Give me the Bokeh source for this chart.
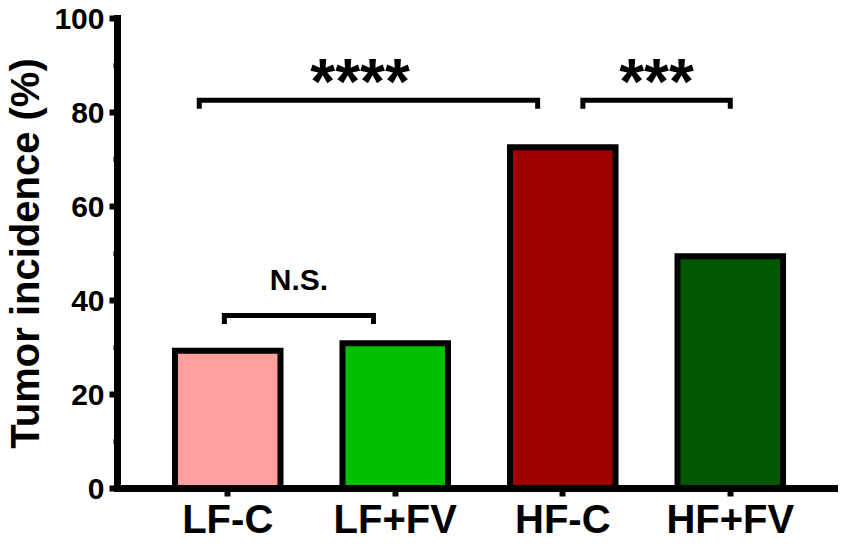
from bokeh.plotting import figure
from bokeh.models import Range1d, FixedTicker, ColumnDataSource
from bokeh.embed import file_html
from bokeh.resources import INLINE
from bokeh.core.properties import value

# ---- data ----
categories = ["LF-C", "LF+FV", "HF-C", "HF+FV"]
incidence = [29.3, 30.9, 72.6, 49.4]          # Tumor incidence (%)
bar_colors = ["#FF9E9E", "#00BF00", "#9E0000", "#005800"]
y_ticks = [0, 20, 40, 60, 80, 100]

# significance annotations
sig_labels = ["****", "N.S.", "***"]
sig_left = [-0.17, -0.02, 2.12]
sig_right = [1.85, 0.87, 3.0]
sig_y = [82.6, 36.8, 82.6]

FONT = "Liberation Sans"

positions = list(range(len(categories)))
src = ColumnDataSource(dict(x=positions, top=incidence, color=bar_colors, cat=categories))

p = figure(width=838, height=543,
           x_range=Range1d(-0.658, 3.646), y_range=Range1d(0, 100),
           output_backend="svg", toolbar_location=None,
           min_border_left=112, min_border_top=18, min_border_right=0, min_border_bottom=51)
p.outline_line_color = None
p.xgrid.grid_line_color = None
p.ygrid.grid_line_color = None
p.background_fill_color = "white"
p.border_fill_color = "white"

p.vbar(x="x", top="top", bottom=0, width=0.63, source=src,
       fill_color="color", line_color="black", line_width=6, line_join="miter")

# brackets
drop = 1.8
xs = [[a, a, b, b] for a, b in zip(sig_left, sig_right)]
ys = [[y - drop, y, y, y - drop] for y in sig_y]
p.multi_line(xs=xs, ys=ys, line_color="black", line_width=5, line_join="miter", line_cap="butt")

mids = [(a + b) / 2 for a, b in zip(sig_left, sig_right)]
star_idx = [i for i, s in enumerate(sig_labels) if s.startswith("*")]
ns_idx = [i for i, s in enumerate(sig_labels) if not s.startswith("*")]
p.text(x=[mids[i] - 0.05 * (len(sig_labels[i]) > 3) for i in star_idx],
       y=[sig_y[i] + 3.9 for i in star_idx],
       text=[sig_labels[i] for i in star_idx],
       text_font=value(FONT), text_font_size="64px", text_font_style="bold",
       text_align="center", text_baseline="alphabetic", text_color="black")
p.text(x=[mids[i] for i in ns_idx],
       y=[sig_y[i] + 7.6 for i in ns_idx],
       text=[sig_labels[i] for i in ns_idx],
       text_font=value(FONT), text_font_size="30px", text_font_style="bold",
       text_align="center", text_baseline="alphabetic", text_color="black")

# y axis
ya = p.yaxis[0]
ya.ticker = FixedTicker(ticks=y_ticks, minor_ticks=[t + 10 for t in y_ticks[:-1]])
ya.axis_line_width = 7
ya.axis_line_color = "black"
ya.axis_line_cap = "square"
ya.major_tick_line_width = 6
ya.major_tick_line_color = "black"
ya.major_tick_out = 8
ya.major_tick_in = 0
ya.minor_tick_line_width = 5
ya.minor_tick_line_color = "black"
ya.minor_tick_out = 4
ya.minor_tick_in = 0
ya.major_label_text_font = FONT
ya.major_label_text_font_size = "30px"
ya.major_label_text_font_style = "bold"
ya.major_label_text_color = "black"
ya.major_label_standoff = 5
ya.axis_label = "Tumor incidence (%)"
ya.axis_label_text_font = FONT
ya.axis_label_text_font_size = "40px"
ya.axis_label_text_font_style = "bold"
ya.axis_label_text_color = "black"
ya.axis_label_standoff = 4

# x axis
xa = p.xaxis[0]
xa.ticker = FixedTicker(ticks=positions)
xa.major_label_overrides = {i: c for i, c in zip(positions, categories)}
xa.axis_line_width = 7
xa.axis_line_color = "black"
xa.axis_line_cap = "square"
xa.major_tick_line_width = 6
xa.major_tick_line_color = "black"
xa.major_tick_out = 8
xa.major_tick_in = 0
xa.minor_tick_line_color = None
xa.major_label_text_font = FONT
xa.major_label_text_font_size = "40px"
xa.major_label_text_font_style = "bold"
xa.major_label_text_color = "black"
xa.major_label_standoff = 0

open("out.html", "w").write(file_html(p, INLINE))
